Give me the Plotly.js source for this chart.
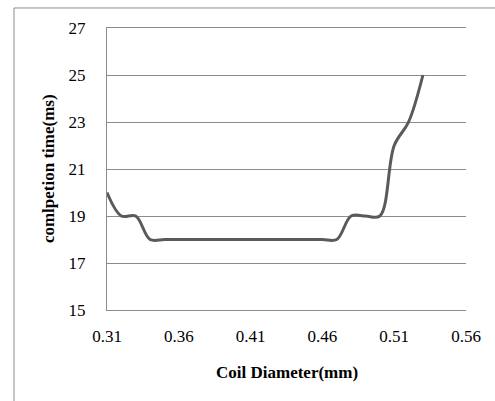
<!DOCTYPE html>
<html>
<head>
<meta charset="utf-8">
<script src="https://cdn.plot.ly/plotly-3.0.1.min.js"></script>
<style>
html,body{margin:0;padding:0;background:#fff;}
#chart{width:495px;height:401px;}
</style>
</head>
<body>
<div id="chart"></div>
<script>
const coilDiameter = [0.31,0.32,0.33,0.34,0.35,0.36,0.37,0.38,0.39,0.40,0.41,0.42,0.43,0.44,0.45,0.46,0.47,0.48,0.49,0.50,0.51,0.52,0.53];
const completionTime = [20,19,19,18,18,18,18,18,18,18,18,18,18,18,18,18,18,19,19,19,22,23,25];
const xTicks = [0.31,0.36,0.41,0.46,0.51,0.56];
const yTicks = [15,17,19,21,23,25,27];
const xTitle = 'Coil Diameter(mm)';
const yTitle = 'comlpetion time(ms)';

const trace = {
  x: coilDiameter,
  y: completionTime,
  type: 'scatter',
  mode: 'lines',
  line: {color: '#5a5a5a', width: 3, shape: 'spline', smoothing: 1},
  hoverinfo: 'skip'
};

const font = {family: '"Liberation Serif", "Times New Roman", serif', color: '#000'};

const layout = {
  width: 495, height: 401,
  margin: {l: 107, r: 29, t: 28, b: 91},
  paper_bgcolor: '#fff', plot_bgcolor: '#fff',
  showlegend: false,
  font: Object.assign({size: 17}, font),
  xaxis: {
    range: [0.31, 0.56],
    tickvals: xTicks,
    ticktext: xTicks.map(v => v.toFixed(2)),
    showgrid: false,
    zeroline: false,
    showline: true,
    mirror: true,
    linecolor: '#8c8c8c',
    linewidth: 1,
    ticks: '',
    ticklabelstandoff: 11,
    tickfont: Object.assign({size: 17}, font)
  },
  yaxis: {
    range: [15, 27],
    tickvals: yTicks,
    showgrid: true,
    gridcolor: '#8c8c8c',
    gridwidth: 1,
    zeroline: false,
    showline: true,
    linecolor: '#8c8c8c',
    linewidth: 1,
    ticks: '',
    ticklabelstandoff: 17,
    tickfont: Object.assign({size: 17}, font)
  },
  annotations: [
    {text: '<b>' + xTitle + '</b>', xref: 'paper', yref: 'paper', x: 0.5, y: -0.223,
     xanchor: 'center', yanchor: 'middle', showarrow: false, font: Object.assign({size: 17}, font)},
    {text: '<b>' + yTitle + '</b>', xref: 'paper', yref: 'paper', x: -0.164, y: 0.5,
     xanchor: 'center', yanchor: 'middle', textangle: -90, showarrow: false, font: Object.assign({size: 17}, font)}
  ],
  shapes: [{
    type: 'rect', xref: 'paper', yref: 'paper',
    x0: -0.259, x1: 1.5, y0: -1, y1: 1.071,
    line: {color: '#8c8c8c', width: 1}, fillcolor: 'rgba(0,0,0,0)', layer: 'below'
  }]
};

Plotly.newPlot('chart', [trace], layout, {displayModeBar: false, staticPlot: true});
</script>
</body>
</html>
